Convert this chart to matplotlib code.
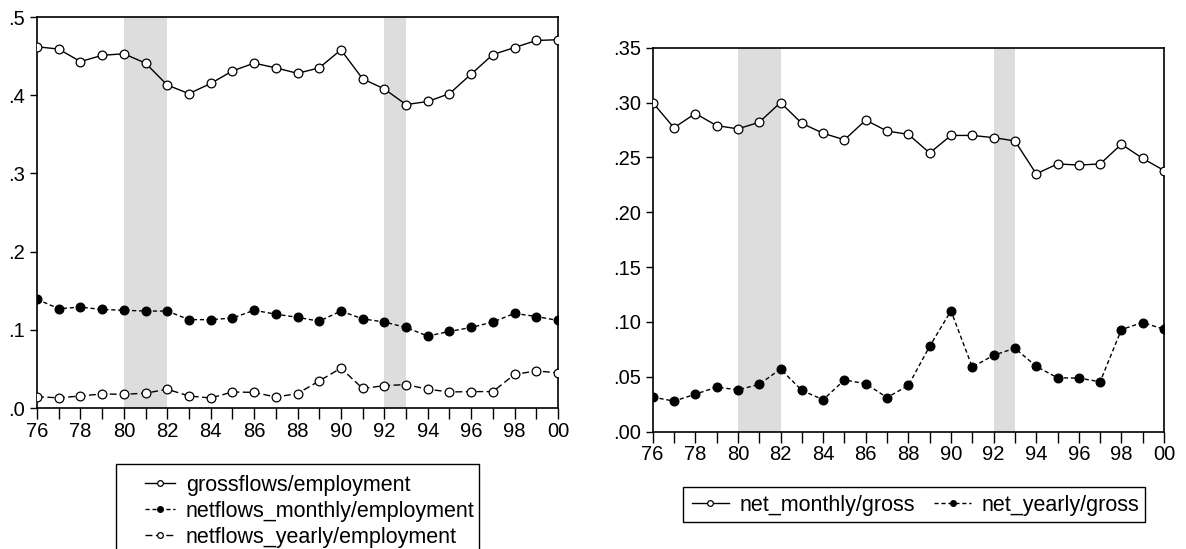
import numpy as np
import matplotlib
matplotlib.use('Agg')
import matplotlib.pyplot as plt
from matplotlib.patches import Rectangle
from matplotlib.ticker import FuncFormatter

plt.rcParams['font.family'] = ['Liberation Sans', 'DejaVu Sans']
plt.rcParams['font.size'] = 14.5

years = np.arange(1976, 2001)

# left panel: flows relative to employment
grossflows = [0.462, 0.459, 0.443, 0.451, 0.453, 0.441, 0.413, 0.402, 0.415, 0.431,
              0.441, 0.435, 0.428, 0.435, 0.458, 0.421, 0.408, 0.388, 0.392, 0.402,
              0.427, 0.452, 0.461, 0.470, 0.471]
netflows_monthly = [0.139, 0.127, 0.129, 0.126, 0.125, 0.124, 0.124, 0.113, 0.113, 0.115,
                    0.125, 0.120, 0.116, 0.111, 0.124, 0.114, 0.110, 0.103, 0.092, 0.098,
                    0.103, 0.110, 0.121, 0.117, 0.112]
netflows_yearly = [0.0145, 0.013, 0.0154, 0.018, 0.0175, 0.019, 0.024, 0.0154, 0.0128, 0.0205,
                   0.020, 0.014, 0.0185, 0.0346, 0.051, 0.025, 0.0286, 0.030, 0.024, 0.0205,
                   0.021, 0.021, 0.043, 0.0474, 0.045]

# right panel: net flows relative to gross flows
net_monthly_gross = [0.300, 0.277, 0.290, 0.279, 0.276, 0.282, 0.300, 0.281, 0.272, 0.266,
                     0.284, 0.274, 0.271, 0.254, 0.270, 0.270, 0.268, 0.265, 0.235, 0.244,
                     0.243, 0.244, 0.262, 0.249, 0.238]
net_yearly_gross = [0.0314, 0.0277, 0.034, 0.0405, 0.038, 0.043, 0.057, 0.0375, 0.029, 0.047,
                    0.0436, 0.031, 0.042, 0.0777, 0.110, 0.0588, 0.0695, 0.076, 0.0594, 0.049,
                    0.0487, 0.0454, 0.093, 0.0994, 0.0932]

recessions = [(1980, 1982), (1992, 1993)]

W, H = 1186, 549
fig = plt.figure(figsize=(W / 100, H / 100), dpi=100)
ax1 = fig.add_axes([0.0312, 0.2568, 0.4393, 0.7122])
ax2 = fig.add_axes([0.5503, 0.2140, 0.4312, 0.6991])

open_mk = dict(marker='o', ms=6.3, mfc='white', mec='black', mew=0.9)
full_mk = dict(marker='o', ms=6.3, mfc='black', mec='black', mew=0.9)


def style(ax, ymin, ymax, step, fmt):
    for a, b in recessions:
        ax.axvspan(a, b, color='#dddddd', lw=0, zorder=0)
    ax.set_xlim(1976, 2000)
    ax.set_ylim(ymin, ymax)
    ax.set_xticks(years)
    ax.set_xticklabels(['%02d' % (y % 100) if y % 2 == 0 else '' for y in years])
    ax.set_yticks(np.arange(ymin, ymax + step / 2, step))
    ax.yaxis.set_major_formatter(FuncFormatter(lambda v, p: (fmt % v).lstrip('0')))
    ax.tick_params(axis='x', direction='out', length=8, width=1, pad=2)
    ax.tick_params(axis='y', direction='out', length=5, width=1, pad=3.5)
    for s in ax.spines.values():
        s.set_linewidth(1.2)


style(ax1, 0.0, 0.5, 0.1, '%.1f')
l1, = ax1.plot(years, grossflows, color='black', lw=1, **open_mk)
l2, = ax1.plot(years, netflows_monthly, color='black', lw=1, ls=(0, (3, 2)), **full_mk)
l3, = ax1.plot(years, netflows_yearly, color='black', lw=1, ls=(0, (5, 2.5)), **open_mk)

style(ax2, 0.0, 0.35, 0.05, '%.2f')
r1, = ax2.plot(years, net_monthly_gross, color='black', lw=1, **open_mk)
r2, = ax2.plot(years, net_yearly_gross, color='black', lw=1, ls=(0, (3, 2)), **full_mk)

for line in (l1, l2, l3, r1, r2):
    line.set_zorder(3)

leg_kw = dict(fontsize=15.5, frameon=False, handletextpad=0.5, borderpad=0,
              borderaxespad=0, markerscale=0.65, loc='upper left')

fig.legend([l1, l2, l3],
           ['grossflows/employment', 'netflows_monthly/employment',
            'netflows_yearly/employment'],
           bbox_to_anchor=(145 / W, 1 - 475 / H), handlelength=1.4,
           labelspacing=0.23, **leg_kw)
fig.legend([r1, r2], ['net_monthly/gross', 'net_yearly/gross'],
           bbox_to_anchor=(692 / W, 1 - 495 / H), handlelength=1.7,
           ncol=2, columnspacing=0.9, **leg_kw)

# legend boxes (the left one runs off the bottom edge)
fig.add_artist(Rectangle((116 / W, -0.05), (479 - 116) / W, 0.05 + 1 - 464 / H,
                         transform=fig.transFigure, fill=False, lw=1, ec='black'))
fig.add_artist(Rectangle((683 / W, 1 - 522 / H), (1145 - 683) / W, 35 / H,
                         transform=fig.transFigure, fill=False, lw=1, ec='black'))

plt.savefig('out.png', dpi=100)
